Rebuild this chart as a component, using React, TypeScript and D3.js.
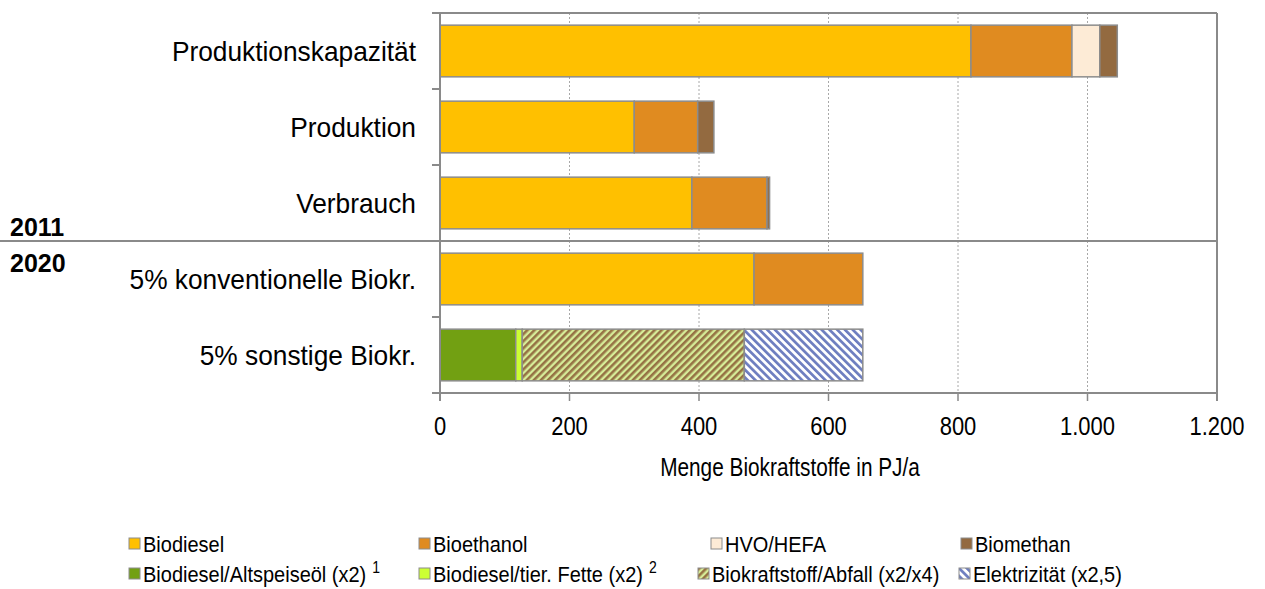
import React from "react";
import * as d3 from "d3";

const categories = [
  "Produktionskapazität",
  "Produktion",
  "Verbrauch",
  "5% konventionelle Biokr.",
  "5% sonstige Biokr.",
];

const seriesNames = [
  "Biodiesel",
  "Bioethanol",
  "HVO/HEFA",
  "Biomethan",
  "Biodiesel/Altspeiseöl (x2)",
  "Biodiesel/tier. Fette (x2)",
  "Biokraftstoff/Abfall (x2/x4)",
  "Elektrizität (x2,5)",
];

const biodiesel = [820, 300, 389, 485, 0];
const bioethanol = [156, 98, 116, 168, 0];
const hvo = [43, 0, 0, 0, 0];
const biomethan = [27, 25, 4, 0, 0];
const altspeiseoel = [0, 0, 0, 0, 117];
const tierFette = [0, 0, 0, 0, 10];
const abfall = [0, 0, 0, 0, 343];
const elektrizitaet = [0, 0, 0, 0, 183];

const xTicks = [0, 200, 400, 600, 800, 1000, 1200];
const xTickLabels = ["0", "200", "400", "600", "800", "1.000", "1.200"];
const yearLabels = ["2011", "2020"];
const xAxisTitle = "Menge Biokraftstoffe in PJ/a";
const superscripts = ["", "", "", "", "1", "2", "", ""];

const seriesValues = [biodiesel, bioethanol, hvo, biomethan, altspeiseoel, tierFette, abfall, elektrizitaet];
const fills = [
  "#FFC000",
  "#E08B20",
  "#FDEBD6",
  "#936A40",
  "#72A012",
  "#CCFF33",
  "url(#patAbfall)",
  "url(#patElek)",
];

export default function App() {
  const W = 1265;
  const H = 589;
  const left = 440;
  const right = 1217;
  const top = 13;
  const bottom = 393;
  const font = "'Liberation Sans', Arial, sans-serif";
  const axisColor = "#8a8a8a";

  const x = d3.scaleLinear().domain([0, 1200]).range([left, right]);
  const y = d3
    .scaleBand<string>()
    .domain(categories)
    .range([top, bottom])
    .paddingInner(0.32)
    .paddingOuter(0.16);

  const stackData = categories.map((c, i) => {
    const o: any = { cat: c };
    seriesNames.forEach((s, j) => (o[s] = seriesValues[j][i]));
    return o;
  });
  const stacked = d3.stack<any>().keys(seriesNames)(stackData);

  const step = (bottom - top) / categories.length;
  const boundaries = d3.range(1, categories.length).map((k) => top + k * step);
  const sepY = top + 3 * step;

  const legendX = [133, 423, 715, 965, 133, 423, 702, 963];
  const legendRows = [552, 582];

  const T = (tx: number, ty: number, sy: number) => `translate(${tx},${ty}) scale(1,${sy})`;

  return (
    <svg
      width={W}
      height={H}
      style={{ position: "absolute", left: 0, top: 0, background: "#fff" }}
      fontFamily={font}
    >
      <defs>
        <pattern id="patAbfall" patternUnits="userSpaceOnUse" width={5} height={5} patternTransform="rotate(45)">
          <rect x={0} y={0} width={5} height={5} fill="#D6EC98" />
          <rect x={0} y={0} width={2.6} height={5} fill="#957244" />
        </pattern>
        <pattern id="patElek" patternUnits="userSpaceOnUse" width={5.5} height={5.5} patternTransform="rotate(-45)">
          <rect x={0} y={0} width={5.5} height={5.5} fill="#ffffff" />
          <rect x={0} y={0} width={2.7} height={5.5} fill="#6E7EC0" />
        </pattern>
      </defs>

      {/* grid lines */}
      {xTicks.slice(1, -1).map((t) => (
        <line
          key={"g" + t}
          x1={x(t)}
          x2={x(t)}
          y1={top}
          y2={bottom}
          stroke="#a8a8a8"
          strokeWidth={1}
          strokeDasharray="2,2"
        />
      ))}

      {/* bars */}
      {stacked.map((layer, j) =>
        layer.map((d, i) => {
          const w = x(d[1]) - x(d[0]);
          if (w <= 0) return null;
          return (
            <rect
              key={j + "-" + i}
              x={x(d[0])}
              y={y(categories[i])}
              width={w}
              height={y.bandwidth()}
              fill={fills[j]}
              stroke="#8c8c8c"
              strokeWidth={1.5}
            />
          );
        })
      )}

      {/* frame */}
      <line x1={left - 8} x2={right} y1={top} y2={top} stroke={axisColor} strokeWidth={2} />
      <line x1={right} x2={right} y1={top} y2={bottom + 8} stroke={axisColor} strokeWidth={2} />
      <line x1={left} x2={left} y1={top} y2={bottom + 8} stroke={axisColor} strokeWidth={2} />
      <line x1={left - 8} x2={right} y1={bottom} y2={bottom} stroke={axisColor} strokeWidth={2} />
      {boundaries.map((b) => (
        <line key={"b" + b} x1={left - 8} x2={left} y1={b} y2={b} stroke={axisColor} strokeWidth={2} />
      ))}
      <line x1={0} x2={right} y1={sepY} y2={sepY} stroke={axisColor} strokeWidth={2} />

      {/* x ticks */}
      {xTicks.map((t, i) => (
        <g key={"t" + t}>
          <line x1={x(t)} x2={x(t)} y1={bottom} y2={bottom + 8} stroke={axisColor} strokeWidth={1.5} />
          <text transform={T(x(t), 435, 1.2)} textAnchor="middle" fontSize={22} fill="#000">
            {xTickLabels[i]}
          </text>
        </g>
      ))}
      <text transform={T(790, 476, 1.2)} textAnchor="middle" fontSize={20.8} fill="#000">
        {xAxisTitle}
      </text>

      {/* category labels */}
      {categories.map((c) => (
        <text
          key={c}
          transform={T(416, (y(c) as number) + y.bandwidth() / 2 + 10, 1.06)}
          textAnchor="end"
          fontSize={26.3}
          fill="#000"
        >
          {c}
        </text>
      ))}

      {/* year labels */}
      <text x={10} y={sepY - 5} fontSize={25} fontWeight="bold" fill="#000">
        {yearLabels[0]}
      </text>
      <text x={10} y={sepY + 31} fontSize={25} fontWeight="bold" fill="#000">
        {yearLabels[1]}
      </text>

      {/* legend */}
      {seriesNames.map((s, j) => {
        const cx = legendX[j];
        const cy = legendRows[Math.floor(j / 4)];
        return (
          <g key={"l" + s}>
            <rect x={cx - 4} y={cy - 14} width={11} height={11} fill={fills[j]} stroke="#8c8c8c" strokeWidth={1} />
            <text transform={T(cx + 10, cy, 1.12)} fontSize={20} fill="#000">
              {s}
              {superscripts[j] ? (
                <tspan dx={6} dy={-8} fontSize={14}>
                  {superscripts[j]}
                </tspan>
              ) : null}
            </text>
          </g>
        );
      })}
    </svg>
  );
}
